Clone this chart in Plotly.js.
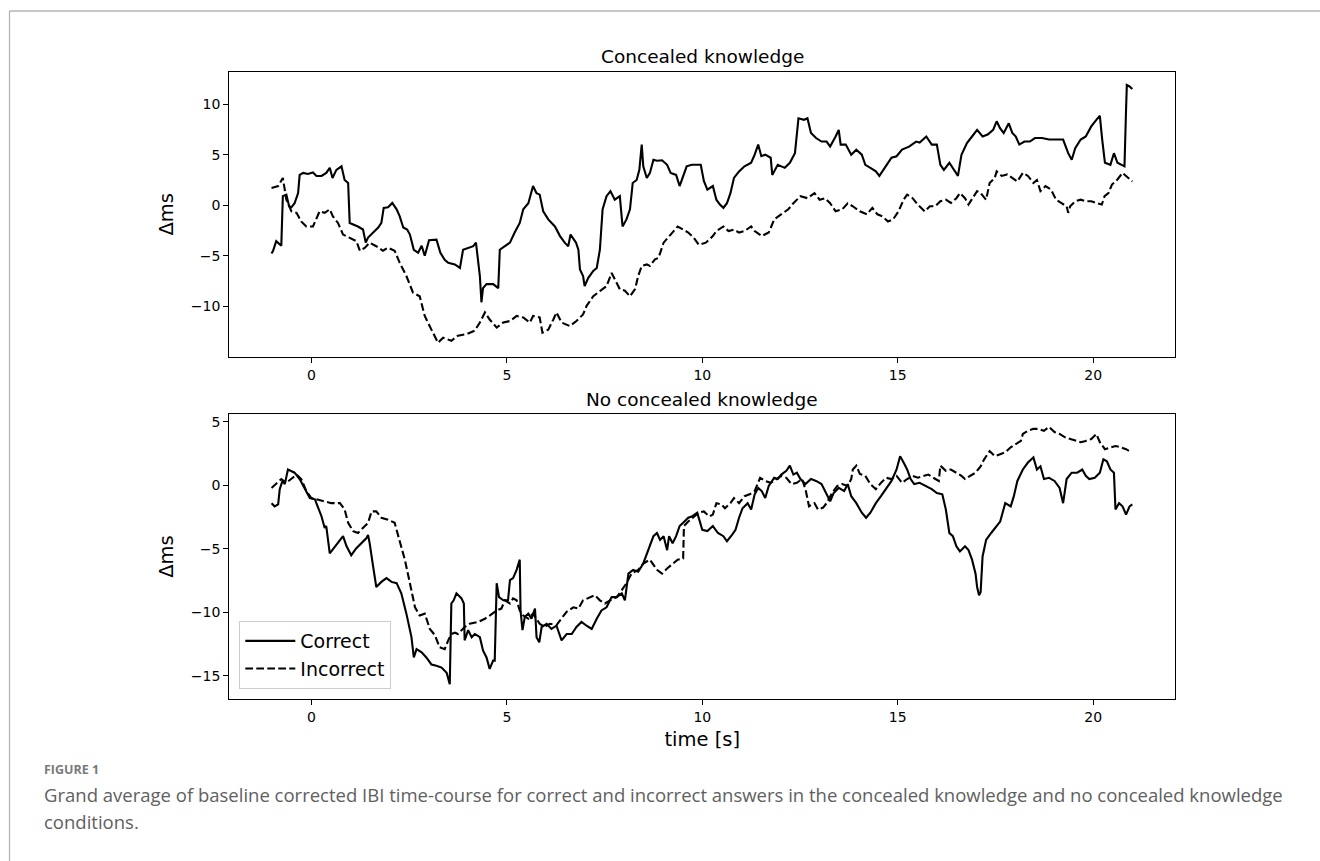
<!DOCTYPE html>
<html>
<head>
<meta charset="utf-8">
<script src="https://cdn.plot.ly/plotly-3.0.1.min.js"></script>
<style>
  html, body { margin: 0; padding: 0; background: #ffffff; }
  #chart { width: 1320px; height: 861px; }
</style>
</head>
<body>
<div id="chart"></div>
<script>
// ---------------- data ----------------
const xTicks = [0, 5, 10, 15, 20];
const topYTicks = [-10, -5, 0, 5, 10];
const botYTicks = [-15, -10, -5, 0, 5];
const seriesNames = ["Correct", "Incorrect"];
const panelTitles = ["Concealed knowledge", "No concealed knowledge"];

// Concealed knowledge – Correct
const topCorrectT = [
-1.02,-0.98,-0.90,-0.85,-0.77,-0.73,-0.64,-0.57,-0.51,-0.43,
-0.34,-0.30,-0.21,-0.09,0.04,0.13,0.26,0.38,0.47,0.54,
0.64,0.77,0.85,0.94,0.98,1.07,1.19,1.32,1.39,1.45,
1.58,1.71,1.79,1.85,1.96,2.07,2.18,2.26,2.35,2.45,
2.52,2.62,2.73,2.82,2.90,3.01,3.20,3.30,3.41,3.50,
3.67,3.80,3.88,4.01,4.14,4.21,4.27,4.31,4.35,4.39,
4.48,4.65,4.78,4.82,4.95,5.08,5.20,5.33,5.42,5.55,
5.67,5.76,5.84,5.93,6.06,6.23,6.36,6.48,6.57,6.63,
6.77,6.83,6.87,6.95,6.99,7.08,7.21,7.30,7.38,7.45,
7.55,7.65,7.76,7.89,7.96,8.06,8.15,8.22,8.32,8.39,
8.45,8.49,8.58,8.66,8.75,8.84,8.97,9.10,9.19,9.33,
9.42,9.51,9.60,9.73,9.96,10.04,10.13,10.27,10.36,10.45,
10.54,10.63,10.72,10.81,10.94,11.08,11.25,11.34,11.43,11.51,
11.61,11.75,11.79,11.93,12.11,12.24,12.37,12.46,12.60,12.69,
12.78,12.91,13.05,13.18,13.27,13.41,13.49,13.54,13.67,13.81,
13.94,14.08,14.17,14.30,14.44,14.53,14.66,14.84,14.97,15.11,
15.29,15.47,15.56,15.73,15.87,16.00,16.09,16.18,16.32,16.45,
16.54,16.63,16.77,16.90,17.03,17.17,17.30,17.44,17.53,17.62,
17.71,17.84,17.93,18.02,18.11,18.24,18.38,18.51,18.69,18.87,
19.05,19.23,19.36,19.45,19.54,19.68,19.81,19.95,20.08,20.17,
20.23,20.30,20.44,20.53,20.62,20.71,20.80,20.84,20.86,20.93,
21.00];
const topCorrectV = [
-4.77,-4.5,-3.55,-3.7,-4.0,0.9,1.05,-0.1,-0.2,0.2,
1.2,3.0,3.2,3.1,3.25,2.9,2.9,3.2,3.7,2.7,
3.5,3.85,2.5,2.2,-1.75,-1.9,-2.1,-2.4,-3.7,-3.2,
-2.7,-2.2,-1.75,-0.26,-0.2,0.23,-0.4,-1.1,-2.2,-2.4,
-2.9,-4.4,-4.7,-4.0,-5.0,-3.45,-3.4,-4.7,-5.4,-5.7,
-5.85,-6.2,-4.4,-4.2,-4.05,-3.7,-5.4,-7.0,-9.6,-8.2,
-7.8,-7.8,-8.2,-4.4,-4.05,-3.7,-2.7,-1.75,-0.4,0.2,
1.9,1.2,1.05,-0.6,-1.4,-2.1,-3.05,-3.7,-4.05,-2.9,
-3.7,-4.4,-6.35,-7.0,-8.0,-7.2,-6.5,-6.2,-4.4,-0.4,
0.9,1.4,0.55,0.9,-2.1,-1.4,-0.4,2.2,2.5,3.5,
6.0,3.85,2.7,3.2,4.5,4.4,4.45,4.0,3.2,3.0,
1.9,2.9,3.85,4.0,4.0,2.4,1.55,1.9,0.55,0.07,
-0.26,0.2,1.2,2.7,3.35,3.85,4.2,5.0,6.0,4.85,
5.0,4.7,3.0,4.0,3.7,4.2,5.15,8.6,8.45,8.6,
7.15,6.65,6.3,6.3,5.8,6.8,7.45,6.0,6.0,5.0,
5.5,5.0,4.0,3.7,3.35,2.9,3.7,4.7,4.85,5.5,
5.8,6.3,6.2,6.8,6.0,6.0,4.0,3.5,4.2,3.5,
2.9,5.0,6.15,6.8,7.45,6.8,7.0,7.45,8.3,7.6,
7.15,8.1,7.15,6.8,6.0,6.3,6.3,6.65,6.65,6.5,
6.5,6.5,5.15,4.5,5.65,6.5,6.8,7.8,8.45,8.85,
6.5,4.2,4.0,5.15,4.2,4.0,3.85,9.45,11.9,11.75,
11.5];

// Concealed knowledge – Incorrect
const topIncorrectT = [
-1.02,-0.85,-0.73,-0.68,-0.64,-0.51,-0.38,-0.26,-0.13,0.04,
0.13,0.21,0.34,0.47,0.55,0.68,0.81,0.98,1.15,1.24,
1.37,1.49,1.66,1.83,1.96,2.13,2.26,2.43,2.60,2.77,
2.90,3.07,3.24,3.37,3.58,3.75,3.97,4.18,4.31,4.44,
4.56,4.74,4.91,5.08,5.25,5.42,5.59,5.67,5.84,5.91,
6.06,6.19,6.27,6.40,6.61,6.78,6.95,7.04,7.21,7.38,
7.55,7.68,7.81,7.89,8.02,8.15,8.28,8.36,8.45,8.58,
8.66,8.79,8.88,9.01,9.19,9.37,9.51,9.64,9.78,9.91,
10.09,10.27,10.36,10.54,10.67,10.81,10.94,11.08,11.25,11.34,
11.52,11.70,11.84,12.02,12.20,12.33,12.51,12.69,12.87,13.00,
13.14,13.27,13.41,13.58,13.72,13.85,14.03,14.21,14.35,14.48,
14.61,14.75,14.88,15.02,15.15,15.24,15.38,15.51,15.69,15.82,
15.96,16.09,16.23,16.36,16.50,16.59,16.72,16.81,16.94,17.03,
17.12,17.26,17.35,17.48,17.53,17.66,17.80,17.93,18.06,18.20,
18.33,18.47,18.56,18.65,18.78,18.92,19.05,19.18,19.32,19.36,
19.41,19.54,19.68,19.81,19.95,20.08,20.22,20.29,20.39,20.48,
20.62,20.75,20.84,21.00];
const topIncorrectV = [
1.7,1.9,2.7,1.7,0.55,-0.6,-0.75,-1.6,-2.1,-2.1,
-1.25,-0.6,-0.75,-0.4,-1.1,-1.75,-2.9,-3.2,-3.55,-4.5,
-4.2,-3.7,-4.05,-4.5,-4.2,-4.5,-5.7,-7.0,-8.65,-9.0,
-10.95,-12.3,-13.6,-13.1,-13.4,-12.9,-12.75,-12.4,-11.6,-10.6,
-11.3,-12.1,-11.6,-11.45,-10.95,-11.1,-11.6,-10.95,-11.1,-12.6,
-12.3,-11.3,-10.6,-11.6,-11.95,-11.45,-10.8,-9.95,-9.0,-8.5,
-8.0,-6.7,-7.65,-8.3,-8.45,-9.0,-8.3,-7.0,-6.0,-5.85,
-6.0,-5.35,-5.2,-3.7,-2.9,-2.1,-2.4,-2.7,-3.2,-3.9,
-3.7,-3.05,-2.55,-2.1,-2.55,-2.4,-2.7,-2.55,-2.1,-2.55,
-3.05,-2.7,-1.4,-0.9,-0.4,0.2,0.9,0.7,1.2,0.55,
0.7,0.2,-0.6,-0.4,0.2,-0.1,-0.6,-0.9,-0.26,-0.9,
-1.1,-1.6,-1.4,-0.6,0.55,1.05,0.7,0.07,-0.6,-0.1,
-0.1,0.4,0.55,0.23,0.7,1.2,0.7,0.07,0.9,1.4,
1.2,0.55,2.2,2.7,3.35,2.9,3.05,2.7,2.35,3.2,
2.9,2.2,2.5,1.4,1.9,1.55,0.55,0.23,-0.1,-0.75,
-0.1,0.4,0.55,0.4,0.4,0.23,0.07,0.9,1.2,2.05,
2.55,3.2,2.9,2.35];

// No concealed knowledge – Correct
const botCorrectT = [
-1.02,-0.94,-0.85,-0.81,-0.74,-0.68,-0.60,-0.51,-0.43,-0.30,
-0.17,-0.04,0.09,0.17,0.26,0.34,0.38,0.47,0.60,0.73,
0.81,0.90,1.02,1.15,1.28,1.41,1.45,1.49,1.58,1.66,
1.79,1.92,2.05,2.18,2.30,2.43,2.56,2.62,2.69,2.82,
2.94,3.07,3.20,3.33,3.46,3.54,3.58,3.64,3.71,3.84,
3.90,3.92,4.01,4.10,4.18,4.31,4.39,4.48,4.56,4.65,
4.69,4.74,4.80,4.91,5.03,5.08,5.16,5.25,5.33,5.35,
5.40,5.46,5.55,5.63,5.72,5.76,5.83,5.89,6.02,6.14,
6.27,6.40,6.53,6.66,6.78,6.91,7.04,7.17,7.30,7.42,
7.55,7.68,7.81,7.94,8.02,8.11,8.23,8.36,8.49,8.62,
8.75,8.84,8.92,9.01,9.10,9.15,9.24,9.33,9.42,9.51,
9.64,9.73,9.87,10.00,10.13,10.27,10.40,10.54,10.63,10.76,
10.85,10.94,11.03,11.16,11.25,11.34,11.43,11.52,11.61,11.70,
11.84,11.93,12.02,12.15,12.24,12.33,12.42,12.51,12.64,12.78,
12.91,13.05,13.18,13.27,13.36,13.49,13.63,13.72,13.81,13.94,
14.08,14.19,14.30,14.44,14.57,14.70,14.84,14.97,15.06,15.15,
15.24,15.33,15.42,15.56,15.73,15.87,16.00,16.14,16.23,16.32,
16.41,16.50,16.59,16.72,16.81,16.90,16.99,17.03,17.08,17.12,
17.17,17.26,17.39,17.53,17.62,17.75,17.89,17.97,18.06,18.20,
18.33,18.47,18.56,18.65,18.74,18.87,19.01,19.14,19.23,19.32,
19.45,19.59,19.72,19.81,19.90,20.04,20.17,20.26,20.35,20.44,
20.53,20.57,20.66,20.75,20.84,20.93,21.00];
const botCorrectV = [
-1.4,-1.65,-1.5,-0.3,0.35,0.1,1.25,1.15,1.0,0.5,
-0.3,-1.0,-1.1,-1.8,-2.45,-3.35,-3.2,-5.35,-4.8,-4.3,
-4.0,-4.8,-5.5,-4.95,-4.55,-4.15,-3.9,-4.55,-6.4,-8.0,
-7.6,-7.3,-7.6,-7.7,-8.5,-10.1,-11.95,-13.55,-12.9,-13.15,
-13.55,-14.1,-14.2,-14.35,-14.75,-15.65,-9.3,-9.05,-8.5,-8.9,
-9.3,-12.2,-11.4,-11.95,-11.7,-11.95,-13.0,-13.55,-14.45,-13.8,
-13.8,-7.7,-8.8,-9.05,-9.05,-7.45,-7.3,-6.65,-5.85,-9.85,
-11.4,-10.35,-10.1,-10.5,-9.7,-11.95,-12.35,-11.15,-10.9,-11.3,
-11.05,-12.2,-11.7,-11.7,-11.15,-10.75,-11.05,-11.3,-10.5,-9.85,
-9.6,-8.8,-8.8,-8.5,-9.05,-6.95,-6.65,-6.8,-6.15,-5.1,
-4.0,-3.75,-4.3,-4.0,-5.1,-4.0,-4.55,-4.0,-3.2,-2.95,
-2.55,-2.45,-2.15,-3.5,-3.6,-3.2,-3.75,-4.0,-4.4,-3.9,
-3.5,-2.55,-1.8,-1.4,-1.9,-0.7,-0.2,-0.45,-1.0,-0.05,
0.6,0.5,0.85,1.15,1.55,0.85,1.0,0.5,0.1,0.5,
0.35,0.1,-0.7,-1.25,-0.6,-0.2,-0.45,0.1,-0.85,-1.4,
-2.15,-2.55,-2.15,-1.4,-0.85,-0.3,0.35,1.25,2.3,1.8,
1.25,0.5,0.1,0.2,-0.05,-0.3,-0.6,-0.7,-1.9,-3.75,
-4.0,-4.8,-5.2,-4.8,-5.1,-5.85,-6.95,-8.0,-8.65,-8.4,
-5.6,-4.3,-3.75,-3.2,-2.85,-1.4,-1.65,-0.85,0.35,1.25,
1.8,2.2,1.25,1.5,0.5,0.6,0.35,-0.2,-1.4,0.5,
1.0,1.0,1.25,0.75,0.5,0.6,1.0,2.05,1.9,1.25,
1.0,-1.9,-1.4,-1.65,-2.3,-1.65,-1.5];

// No concealed knowledge – Incorrect
const botIncorrectT = [
-1.02,-0.90,-0.77,-0.64,-0.51,-0.38,-0.26,-0.13,0.00,0.13,
0.30,0.51,0.73,0.85,0.94,1.07,1.19,1.32,1.45,1.54,
1.66,1.79,1.96,2.13,2.26,2.39,2.52,2.65,2.77,2.90,
3.03,3.16,3.28,3.41,3.50,3.58,3.67,3.75,3.92,4.05,
4.27,4.44,4.56,4.74,4.86,4.95,5.08,5.16,5.25,5.33,
5.42,5.55,5.67,5.84,5.97,6.10,6.27,6.40,6.53,6.70,
6.83,6.95,7.12,7.25,7.38,7.51,7.64,7.81,7.94,8.06,
8.19,8.36,8.49,8.66,8.84,8.97,9.10,9.24,9.37,9.51,
9.53,9.64,9.78,9.91,10.04,10.18,10.27,10.36,10.49,10.58,
10.72,10.81,10.94,11.08,11.21,11.34,11.48,11.61,11.75,11.88,
12.02,12.15,12.28,12.42,12.55,12.64,12.73,12.87,12.96,13.09,
13.18,13.32,13.45,13.58,13.72,13.81,13.85,13.94,14.03,14.17,
14.30,14.44,14.57,14.70,14.84,14.97,15.11,15.24,15.38,15.51,
15.65,15.78,15.91,16.05,16.09,16.23,16.36,16.50,16.63,16.72,
16.85,16.99,17.12,17.21,17.35,17.48,17.62,17.75,17.89,18.02,
18.15,18.20,18.33,18.47,18.60,18.74,18.87,19.01,19.14,19.27,
19.41,19.54,19.68,19.81,19.95,20.08,20.17,20.30,20.44,20.57,
20.71,20.84,20.98];
const botIncorrectV = [
-0.2,0.1,0.5,0.2,0.5,0.85,0.5,-0.45,-1.0,-1.1,
-1.25,-1.4,-1.4,-1.9,-2.95,-3.6,-3.75,-3.35,-2.95,-2.05,
-2.05,-2.55,-2.7,-2.95,-4.3,-5.85,-7.7,-9.6,-10.25,-10.1,
-11.3,-11.8,-12.75,-12.9,-12.2,-11.7,-11.6,-11.7,-11.15,-10.9,
-10.75,-10.5,-10.25,-9.85,-9.7,-9.05,-9.3,-8.9,-9.05,-9.85,
-10.25,-10.5,-10.1,-10.9,-11.15,-10.9,-11.0,-10.5,-9.95,-9.6,
-9.7,-9.05,-8.8,-8.65,-9.05,-9.3,-9.05,-8.8,-8.25,-7.7,
-6.95,-6.65,-6.15,-5.85,-6.65,-6.95,-6.55,-6.15,-5.85,-5.75,
-3.2,-2.85,-2.45,-2.15,-2.05,-2.45,-2.3,-1.4,-1.5,-1.8,
-1.4,-1.0,-1.4,-0.85,-0.7,-0.45,0.6,0.35,0.2,0.5,
0.75,0.6,0.1,0.2,0.5,-0.3,-1.65,-1.4,-1.9,-1.75,
-1.4,-0.6,-0.05,0.1,-0.05,0.5,1.25,1.55,0.9,0.75,
0.1,-0.3,0.2,0.6,0.5,0.75,0.2,0.5,0.75,0.6,
0.75,0.85,0.6,0.35,1.55,1.15,1.25,1.0,0.75,0.5,
0.75,1.0,1.5,2.05,2.7,2.3,2.45,2.6,3.0,3.25,
3.5,4.05,4.3,4.45,4.45,4.3,4.6,4.2,4.05,3.8,
3.65,3.5,3.4,3.5,3.65,4.05,3.4,2.85,3.0,3.1,
3.0,2.85,2.6];

// ---------------- layout helpers (pixel -> paper) ----------------
const W = 1320, H = 861;
const PX = p => p / W;
const PY = p => 1 - p / H;

const FONT = "DejaVu Sans, Liberation Sans, sans-serif";
const CAPFONT = "Open Sans, Noto Sans, sans-serif";
const solid = { color: "#000000", width: 2.1 };
const dashed = { color: "#000000", width: 2.1, dash: "7.7px,3.3px" };

const traces = [
  { x: topCorrectT, y: topCorrectV, xaxis: "x", yaxis: "y", mode: "lines",
    line: solid, name: seriesNames[0], showlegend: false, hoverinfo: "skip" },
  { x: topIncorrectT, y: topIncorrectV, xaxis: "x", yaxis: "y", mode: "lines",
    line: dashed, name: seriesNames[1], showlegend: false, hoverinfo: "skip" },
  { x: botCorrectT, y: botCorrectV, xaxis: "x2", yaxis: "y2", mode: "lines",
    line: solid, name: seriesNames[0], showlegend: true, hoverinfo: "skip" },
  { x: botIncorrectT, y: botIncorrectV, xaxis: "x2", yaxis: "y2", mode: "lines",
    line: dashed, name: seriesNames[1], showlegend: true, hoverinfo: "skip" }
];

const axisCommon = {
  showgrid: false, zeroline: false,
  showline: true, mirror: true, linecolor: "#000000", linewidth: 1.1,
  ticks: "outside", ticklen: 5, tickwidth: 1.1, tickcolor: "#000000",
  tickfont: { family: FONT, size: 14, color: "#000000" },
  tickmode: "array", fixedrange: true
};

const xDomain = [PX(229.3), PX(1175.3)];

const layout = {
  width: W, height: H,
  margin: { l: 0, r: 0, t: 0, b: 0, pad: 0 },
  paper_bgcolor: "#ffffff", plot_bgcolor: "#ffffff",
  font: { family: FONT, color: "#000000" },
  showlegend: true,
  xaxis: Object.assign({}, axisCommon, {
    domain: xDomain, anchor: "y", range: [-2.1, 22.1], tickvals: xTicks
  }),
  yaxis: Object.assign({}, axisCommon, {
    domain: [PY(356.7), PY(72)], anchor: "x", range: [-14.98, 13.18], tickvals: topYTicks,
    title: { text: "Δms", font: { family: FONT, size: 19.5, color: "#000000" }, standoff: 12 }
  }),
  xaxis2: Object.assign({}, axisCommon, {
    domain: xDomain, anchor: "y2", range: [-2.1, 22.1], tickvals: xTicks,
    title: { text: "time [s]", font: { family: FONT, size: 19.5, color: "#000000" }, standoff: 8 }
  }),
  yaxis2: Object.assign({}, axisCommon, {
    domain: [PY(699), PY(414)], anchor: "x2", range: [-16.82, 5.62], tickvals: botYTicks,
    title: { text: "Δms", font: { family: FONT, size: 19.5, color: "#000000" }, standoff: 12 }
  }),
  legend: {
    x: PX(239.3), y: PY(689), xanchor: "left", yanchor: "bottom",
    font: { family: FONT, size: 19, color: "#000000" },
    bgcolor: "rgba(255,255,255,0.85)", bordercolor: "#cccccc", borderwidth: 1,
    tracegroupgap: 0, traceorder: "normal", itemwidth: 50
  },
  annotations: [
    { text: panelTitles[0], xref: "paper", yref: "paper", x: PX(702.3), y: PY(56.7),
      xanchor: "center", yanchor: "middle", showarrow: false,
      font: { family: FONT, size: 18.5, color: "#000000" } },
    { text: panelTitles[1], xref: "paper", yref: "paper", x: PX(702.3), y: PY(399),
      xanchor: "center", yanchor: "middle", showarrow: false,
      font: { family: FONT, size: 18.5, color: "#000000" } },
    { text: "<b>FIGURE 1</b>", xref: "paper", yref: "paper", x: PX(42), y: PY(769),
      xanchor: "left", yanchor: "middle", showarrow: false,
      font: { family: CAPFONT, size: 12.5, color: "#7a7a7a" } },
    { text: "Grand average of baseline corrected IBI time-course for correct and incorrect answers in the concealed knowledge and no concealed knowledge",
      xref: "paper", yref: "paper", x: PX(42), y: PY(794),
      xanchor: "left", yanchor: "middle", showarrow: false,
      font: { family: CAPFONT, size: 18.5, color: "#606060" } },
    { text: "conditions.",
      xref: "paper", yref: "paper", x: PX(42), y: PY(821),
      xanchor: "left", yanchor: "middle", showarrow: false,
      font: { family: CAPFONT, size: 18.5, color: "#606060" } }
  ],
  shapes: [
    { type: "line", xref: "paper", yref: "paper", x0: PX(9.5), x1: 1, y0: PY(11), y1: PY(11),
      line: { color: "#b5b5b5", width: 1.3 } },
    { type: "line", xref: "paper", yref: "paper", x0: PX(9.5), x1: PX(9.5), y0: PY(11), y1: 0,
      line: { color: "#b5b5b5", width: 1.3 } }
  ]
};

Plotly.newPlot("chart", traces, layout, { displayModeBar: false, staticPlot: true });
</script>
</body>
</html>
